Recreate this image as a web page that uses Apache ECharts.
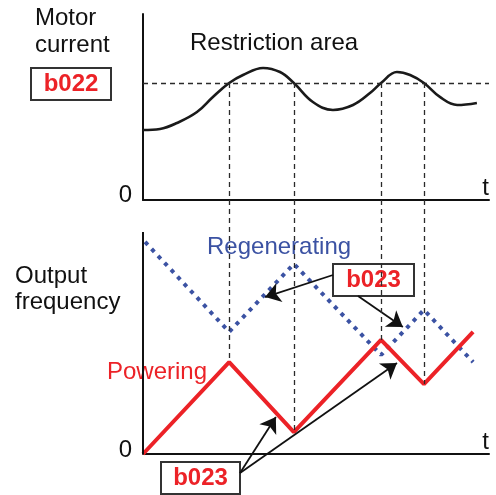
<!DOCTYPE html>
<html lang="en">
<head>
<meta charset="UTF-8">
<title>Restriction area</title>
<script src="https://cdn.jsdelivr.net/npm/echarts@6/dist/echarts.min.js"></script>
<style>
  html, body { margin: 0; padding: 0; background: #fff; }
  #container { width: 496px; height: 495px; }
</style>
</head>
<body>
<div id="container"></div>
<script type="text/javascript">
    // time axis runs 0..100 in both panels
    const currentT   = [0, 4.9, 9.8, 15.6, 20.2, 24.9, 28.9, 34.7, 39.6, 43.6, 49.1, 54.9, 60.7, 65.6, 68.8, 73.4, 77.2, 81.2, 85.8, 90.8, 96.5];
    const currentVal = [37.6, 38.2, 41.4, 47.3, 55.4, 62.9, 67.2, 71.0, 68.8, 62.9, 52.7, 48.4, 51.1, 57.5, 62.9, 68.8, 67.2, 62.9, 55.4, 51.1, 52.2];
    const limitLevel = 62.9;               // b022 level
    const crossT     = [24.9, 43.6, 68.8, 81.2];

    const poweringT   = [0, 24.9, 43.6, 68.8, 81.2, 95.4];
    const poweringVal = [0, 41.4, 9.9, 51.4, 31.5, 55.0];
    const regenT      = [0.6, 24.9, 43.6, 68.8, 81.2, 95.4];
    const regenVal    = [95.5, 55.0, 85.6, 44.6, 64.9, 41.4];

    // points the b023 arrows aim at (bottom panel units)
    const arrowTargets = [[35.3, 70.7], [75.1, 57.2], [38.4, 16.7], [73.4, 41.0]];
    const arrowFrom    = [[333, 275], [358, 296], [240, 473], [240, 473]];

    const RED = '#ec2227';
    const BLUE = '#3b52a3';
    const FONT = '"Liberation Sans", Arial, sans-serif';
    const bottomMax = 114.4;   // bottom grid starts in the gap, axis line drawn to 100

    const zip = (a, b) => a.map((v, i) => [v, b[i]]);
    const dashed = { color: '#2a2a2a', width: 1.3, type: [5, 4] };

    const dom = document.getElementById('container');
    const myChart = echarts.init(dom, null, { renderer: 'canvas' });

    function txt(str, x, y, color) {
        return {
            type: 'text', x: x, y: y,
            style: { text: str, fill: color || '#111', font: '24px ' + FONT, verticalAlign: 'middle' }
        };
    }
    function box(str, x, y, w, h) {
        return {
            type: 'group', x: x, y: y,
            children: [
                { type: 'rect', shape: { x: 0, y: 0, width: w, height: h }, style: { fill: '#fff', stroke: '#333', lineWidth: 2 } },
                { type: 'text', x: w / 2, y: h / 2 + 0.5, style: { text: str, fill: RED, font: 'bold 24px ' + FONT, align: 'center', verticalAlign: 'middle' } }
            ]
        };
    }

    const axisBase = {
        type: 'value', min: 0, max: 100,
        splitLine: { show: false }, axisTick: { show: false },
        axisLine: { show: true, lineStyle: { color: '#111', width: 2 } }
    };
    const tName = {
        name: 't', nameLocation: 'end', nameGap: 0,
        nameTextStyle: { fontSize: 24, fontFamily: FONT, color: '#111', align: 'right', verticalAlign: 'bottom' }
    };
    const zeroLabel = lh => ({
        show: true, fontSize: 24, fontFamily: FONT, color: '#111', margin: 11,
        verticalAlign: 'bottom', lineHeight: lh, showMaxLabel: false,
        formatter: v => v === 0 ? '0' : ''
    });

    const option = {
        animation: false,
        grid: [
            { left: 143, right: 7, top: 14, bottom: 295 },
            { left: 143, right: 7, top: 200, bottom: 41 }
        ],
        xAxis: [
            Object.assign({}, axisBase, tName, { gridIndex: 0, axisLabel: { show: false } }),
            Object.assign({}, axisBase, tName, { gridIndex: 1, axisLabel: { show: false } })
        ],
        yAxis: [
            Object.assign({}, axisBase, { gridIndex: 0, interval: 100, axisLabel: zeroLabel(9) }),
            Object.assign({}, axisBase, {
                gridIndex: 1, max: bottomMax, interval: 100,
                axisLine: { show: false }, axisLabel: zeroLabel(7)
            })
        ],
        series: [
            {
                name: 'Motor current', type: 'line', xAxisIndex: 0, yAxisIndex: 0,
                data: zip(currentT, currentVal), smooth: 0.4, symbol: 'none',
                lineStyle: { color: '#1a1a1a', width: 2.6 },
                markLine: {
                    silent: true, symbol: 'none', label: { show: false }, lineStyle: dashed,
                    data: [{ yAxis: limitLevel }].concat(
                        crossT.map(t => [{ coord: [t, limitLevel] }, { coord: [t, 0] }]))
                }
            },
            {
                name: 'Regenerating', type: 'line', xAxisIndex: 1, yAxisIndex: 1,
                data: zip(regenT, regenVal), symbol: 'none',
                lineStyle: { color: BLUE, width: 4, type: [4, 5.5], cap: 'butt' },
                markLine: {
                    silent: true, symbol: ['none', 'arrow'], symbolSize: 15, label: { show: false },
                    lineStyle: { color: '#111', width: 1.8, type: 'solid' },
                    itemStyle: { color: '#111' },
                    data: arrowTargets.map((p, i) => [{ x: arrowFrom[i][0], y: arrowFrom[i][1] }, { coord: p }])
                }
            },
            {
                name: 'Powering', type: 'line', xAxisIndex: 1, yAxisIndex: 1,
                data: zip(poweringT, poweringVal), symbol: 'none',
                lineStyle: { color: RED, width: 4 },
                markLine: {
                    silent: true, symbol: 'none', label: { show: false }, lineStyle: dashed,
                    data: crossT.map(t => {
                        const k = poweringT.indexOf(t);
                        return [{ coord: [t, bottomMax] }, { coord: [t, poweringVal[k]] }];
                    }).concat([[
                        { coord: [0, 0], lineStyle: { color: '#111', width: 2, type: 'solid' } },
                        { coord: [0, 100] }
                    ]])
                }
            }
        ],
        graphic: [
            txt('Motor', 35, 18.4),
            txt('current', 35, 45.5),
            txt('Restriction area', 190, 43.4),
            txt('Output', 15, 276),
            txt('frequency', 15, 302),
            txt('Regenerating', 207, 247.4, BLUE),
            txt('Powering', 107, 372.4, RED),
            box('b022', 31, 68, 80, 32),
            box('b023', 333, 264, 81, 32),
            box('b023', 161, 462, 79, 32)
        ]
    };

    myChart.setOption(option);
    window.addEventListener('resize', myChart.resize);
</script>
</body>
</html>
